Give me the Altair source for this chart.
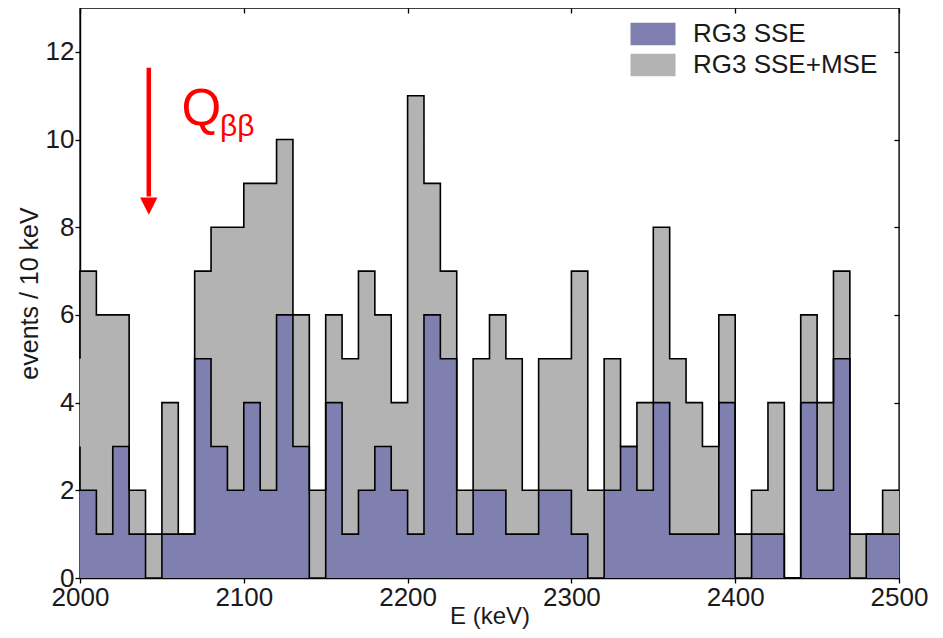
import altair as alt
import pandas as pd

# ---- data (events per 10 keV bin, 2000-2500 keV) ----
bin_starts = list(range(2000, 2500, 10))
bin_width = 10
total = [7, 6, 6, 2, 1, 4, 1, 7, 8, 8, 9, 9, 10, 6, 2, 6, 5, 7, 6, 4,
         11, 9, 7, 2, 5, 6, 5, 2, 5, 5, 7, 2, 5, 3, 4, 8, 5, 4, 3, 6,
         1, 2, 4, 0, 6, 4, 7, 1, 1, 2]
sse = [2, 1, 3, 1, 0, 1, 1, 5, 3, 2, 4, 2, 6, 3, 0, 4, 1, 2, 3, 2,
       1, 6, 5, 1, 2, 2, 1, 1, 2, 2, 1, 0, 2, 3, 2, 4, 1, 1, 1, 4,
       0, 1, 1, 0, 4, 2, 5, 0, 1, 1]
total_before = 5   # bin just below 2000 keV (visible as the edge step)
sse_before = 3
x_ticks = [2000, 2100, 2200, 2300, 2400, 2500]
y_ticks = [0, 2, 4, 6, 8, 10, 12]
series_names = ["RG3 SSE", "RG3 SSE+MSE"]
series_colors = ["#8080B0", "#B3B3B3"]
q_energy = 2042

FONT = "Liberation Sans"

edges = bin_starts + [bin_starts[-1] + bin_width]
area_df = pd.DataFrame({"E": edges,
                        "total": total + [total[-1]],
                        "sse": sse + [sse[-1]]})


def outline_df(before, vals):
    xs = [bin_starts[0]] + edges
    ys = [before] + vals + [vals[-1]]
    return pd.DataFrame({"i": list(range(len(xs))), "E": xs, "v": ys})


tot_line_df = outline_df(total_before, total)
sse_line_df = outline_df(sse_before, sse)
one = pd.DataFrame({"a": [0]})

xscale = alt.Scale(domain=[2000, 2500], nice=False, zero=False)
yscale = alt.Scale(domain=[0, 13], nice=False)
fill_scale = alt.Scale(domain=series_names, range=series_colors)

x_main = alt.X("E:Q", scale=xscale,
               axis=alt.Axis(values=x_ticks, format="d", title="E (keV)",
                             grid=False, tickSize=5, labelPadding=1,
                             titlePadding=-6, labelFlush=False))
y_main = alt.Y("total:Q", scale=yscale,
               axis=alt.Axis(values=y_ticks, title="events / 10 keV",
                             grid=False, tickSize=5, labelPadding=1,
                             titlePadding=3))

gray_area = alt.Chart(area_df).transform_calculate(
    series="'" + series_names[1] + "'"
).mark_area(interpolate="step-after", opacity=1).encode(
    x=x_main,
    y=y_main,
    fill=alt.Fill("series:N", scale=fill_scale,
                  legend=alt.Legend(title=None, orient="none", legendX=560, legendY=13,
                                    symbolType="M-2,-1H2V1H-2Z", symbolSize=506,
                                    symbolStrokeWidth=0, symbolOpacity=1,
                                    labelFontSize=26, labelFont=FONT, labelColor="#1a1a1a",
                                    labelOffset=27, rowPadding=5, labelLimit=0)),
)
purple_area = alt.Chart(area_df).transform_calculate(
    series="'" + series_names[0] + "'"
).mark_area(interpolate="step-after", opacity=1).encode(
    x=alt.X("E:Q", scale=xscale),
    y=alt.Y("sse:Q", scale=yscale),
    fill=alt.Fill("series:N", scale=fill_scale),
)
tot_line = alt.Chart(tot_line_df).mark_line(interpolate="step-after", color="black",
                                             strokeWidth=1.6).encode(
    x=alt.X("E:Q", scale=xscale), y=alt.Y("v:Q", scale=yscale), order="i:Q")
sse_line = alt.Chart(sse_line_df).mark_line(interpolate="step-after", color="black",
                                             strokeWidth=1.6).encode(
    x=alt.X("E:Q", scale=xscale), y=alt.Y("v:Q", scale=yscale), order="i:Q")

arrow_shaft = alt.Chart(one).mark_rule(color="#FF0000", strokeWidth=4.5).encode(
    x=alt.datum(q_energy), y=alt.datum(11.64), y2=alt.datum(8.7))
arrow_head = alt.Chart(one).mark_point(shape="M-1,-1L1,-1L0,1Z", filled=True, size=300,
                                       color="#FF0000", opacity=1).encode(
    x=alt.datum(q_energy), y=alt.datum(8.48))
q_text = alt.Chart(one).mark_text(text="Q", font=FONT, fontSize=51, color="#FF0000",
                                  align="left", baseline="alphabetic").encode(
    x=alt.datum(2062.0), y=alt.datum(10.33))
bb_text = alt.Chart(one).mark_text(text="ββ", font=FONT, fontSize=30, color="#FF0000",
                                   align="left", baseline="alphabetic").encode(
    x=alt.datum(2085.5), y=alt.datum(10.08))

main = alt.layer(gray_area, purple_area, tot_line, sse_line,
                 arrow_shaft, arrow_head, q_text, bb_text)

tick_layer = alt.Chart(area_df).mark_line(opacity=0).encode(
    x=alt.X("E:Q", scale=xscale,
            axis=alt.Axis(orient="top", values=x_ticks, labels=False, domain=False,
                          grid=False, tickSize=5, offset=-5, title=None)),
    y=alt.Y("total:Q", scale=yscale,
            axis=alt.Axis(orient="right", values=y_ticks, labels=False, domain=False,
                          grid=False, tickSize=5, offset=-5, title=None)),
)

chart = alt.layer(main, tick_layer).resolve_axis(
    x="independent", y="independent"
).properties(
    width=819, height=570,
    autosize=alt.AutoSizeParams(type="none"),
    padding={"left": 72, "top": 0, "right": 36, "bottom": 52},
).configure_view(
    stroke="black", strokeWidth=1.4
).configure_axis(
    labelFont=FONT, labelFontSize=26, labelColor="#1a1a1a",
    titleFont=FONT, titleFontSize=24, titleFontWeight="normal", titleColor="#1a1a1a",
    tickColor="black", tickWidth=1.3, domainColor="black", domainWidth=1.4,
).configure_axisY(titleFontSize=25)

chart.save("out.html", embed_options={"renderer": "svg", "actions": False})
